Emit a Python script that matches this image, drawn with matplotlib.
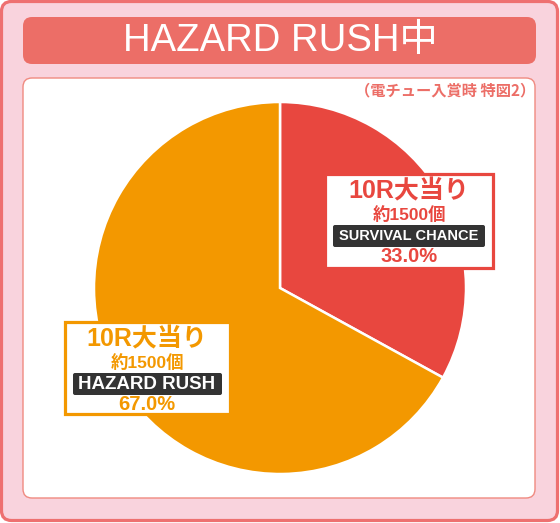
import matplotlib
matplotlib.use("Agg")
import matplotlib.pyplot as plt
from matplotlib.patches import FancyBboxPatch, Rectangle

# データ
title = "HAZARD RUSH中"
subtitle = "（電チュー入賞時 特図2）"
categories = ["SURVIVAL CHANCE", "HAZARD RUSH"]
shares = [33.0, 67.0]
round_labels = ["10R大当り", "10R大当り"]
payout_labels = ["約1500個", "約1500個"]

RED = "#E8473F"
ORANGE = "#F39800"
slice_colors = [RED, ORANGE]

JP = ["Noto Sans CJK JP", "DejaVu Sans"]
LAT = ["Liberation Sans", "Noto Sans CJK JP"]

W, H = 560, 523
fig = plt.figure(figsize=(W / 100, H / 100), dpi=100)
ax = fig.add_axes([0, 0, 1, 1])


def rbox(x, y, w, h, r, fc, ec="none", lw=0, z=1):
    p = FancyBboxPatch((x, y), w, h, boxstyle=f"round,pad=0,rounding_size={r}",
                       fc=fc, ec=ec, lw=lw, zorder=z)
    ax.add_patch(p)
    return p


# 外枠・タイトル
rbox(1.5, 1.5, 556, 519, 10, "#F9D3DD", "#EE7070", 2.3, z=0)
rbox(23, 17, 513, 47, 9, "#EC6E67", z=1)
ax.text(280, 41, title, color="white", fontsize=27.5, ha="center", va="center",
        family=LAT, zorder=5)
rbox(23, 78, 512, 420, 9, "white", "#F08A80", 1.0, z=1)
ax.text(535, 90, subtitle, color="#EC6E67", fontsize=11, fontweight="bold",
        ha="right", va="center", family=JP, zorder=5)

# 円グラフ（y軸反転のため counterclock=True で画面上は時計回り）
ax.pie(shares, colors=slice_colors, startangle=270, counterclock=True,
       center=(280, 288), radius=186,
       wedgeprops=dict(edgecolor="white", linewidth=1.8, zorder=2))

# ラベル
boxes = [
    dict(x=325, y=174, w=168, h=94, cx=409, col=RED, fs=10.5),
    dict(x=65, y=322, w=165, h=92, cx=147, col=ORANGE, fs=13.5),
]
for i, b in enumerate(boxes):
    ax.add_patch(Rectangle((b["x"], b["y"]), b["w"], b["h"], fc="white",
                           ec=b["col"], lw=2.3, zorder=3))
    y0 = b["y"]
    ax.text(b["cx"], y0 + 17, round_labels[i], color=b["col"], fontsize=18,
            fontweight="bold", ha="center", va="center", family=LAT, zorder=5)
    ax.text(b["cx"], y0 + 40, payout_labels[i], color=b["col"], fontsize=12.5,
            fontweight="bold", ha="center", va="center", family=LAT, zorder=5)
    rbox(b["x"] + 8, y0 + 51, b["w"] - 16, 22, 2, "#333333", z=4)
    ax.text(b["cx"], y0 + 62.5, categories[i], color="white", fontsize=b["fs"],
            fontweight="bold", ha="center", va="center", family=LAT, zorder=5)
    ax.text(b["cx"], y0 + 82, f"{shares[i]:.1f}%", color=b["col"], fontsize=14.5,
            fontweight="bold", ha="center", va="center", family=LAT, zorder=5)

ax.set_xlim(0, W)
ax.set_ylim(H, 0)
ax.set_aspect("equal")
ax.axis("off")
fig.savefig("out.png", dpi=100)
